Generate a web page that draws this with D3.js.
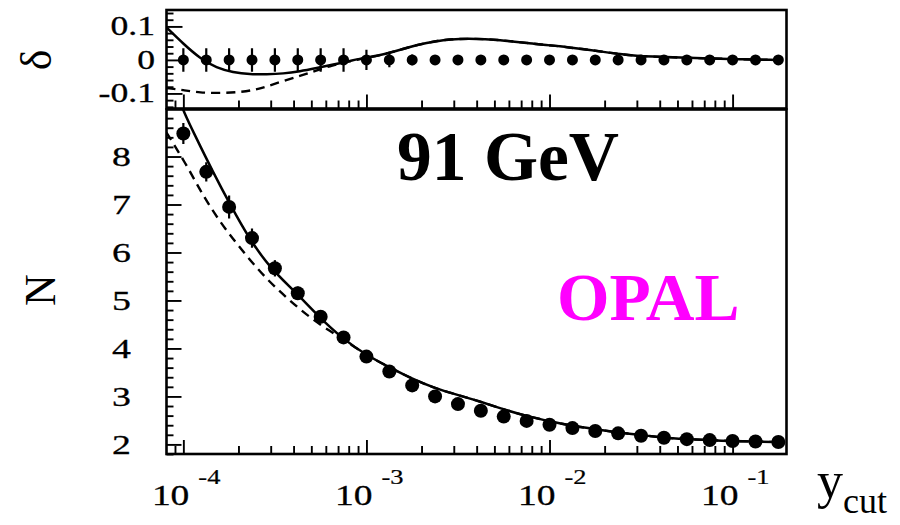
<!DOCTYPE html>
<html><head><meta charset="utf-8">
<script src="https://cdn.jsdelivr.net/npm/d3@7"></script>
<style>body{margin:0;background:#fff} svg{display:block}</style>
</head><body>
<svg id="chart" width="900" height="525"></svg>
<script>
// ---------- data ----------
const ycut = [1.00e-4, 1.334e-4, 1.778e-4, 2.371e-4, 3.162e-4, 4.217e-4, 5.623e-4, 7.499e-4,
  1.00e-3, 1.334e-3, 1.778e-3, 2.371e-3, 3.162e-3, 4.217e-3, 5.623e-3, 7.499e-3,
  1.00e-2, 1.334e-2, 1.778e-2, 2.371e-2, 3.162e-2, 4.217e-2, 5.623e-2, 7.499e-2,
  0.100, 0.1334, 0.1778];
const nData = [8.48, 7.68, 6.95, 6.30, 5.67, 5.15, 4.66, 4.23, 3.83, 3.52, 3.23, 3.00, 2.84, 2.70,
  2.58, 2.49, 2.41, 2.34, 2.28, 2.23, 2.18, 2.14, 2.11, 2.09, 2.07, 2.06, 2.05];
const nErr = [0.22, 0.20, 0.24, 0.20, 0.17, 0.14, 0.12, 0.10, 0.08, 0.06, 0.05, 0.04, 0.03, 0.03,
  0.02, 0.02, 0.02, 0.02, 0.02, 0.02, 0.02, 0.02, 0.02, 0.02, 0.02, 0.02, 0.02];
const deltaData = [0,0,0,0,0,0,0,0,0,0,0,0,0,0,0,0,0,0,0,0,0,0,0,0,0,0,0];
const deltaErr = [0.035, 0.035, 0.035, 0.035, 0.035, 0.035, 0.035, 0.035, 0.030, 0.022, 0.016, 0.010,
  0.008, 0.008, 0.008, 0.008, 0.008, 0.008, 0.008, 0.008, 0.008, 0.008, 0.008, 0.008, 0.008, 0.008, 0.008];

// theory curves, lower panel (N)
const solidNX = [9.5e-5, 1.0e-4, 1.144e-4, 1.45e-4, 1.83e-4, 2.29e-4, 2.94e-4, 4.16e-4, 5.46e-4, 7.48e-4,
  1.0e-3, 1.33e-3, 1.79e-3, 2.37e-3, 3.15e-3, 4.14e-3, 5.6e-3, 7.5e-3, 1.01e-2, 1.32e-2, 1.76e-2,
  2.33e-2, 3.12e-2, 4.13e-2, 5.54e-2, 7.31e-2, 9.8e-2, 0.130, 0.174];
const solidN = [9.2, 8.95, 8.48, 7.68, 6.95, 6.29, 5.70, 5.15, 4.67, 4.19,
  3.86, 3.61, 3.36, 3.17, 3.03, 2.90, 2.73, 2.59, 2.48, 2.39, 2.32,
  2.25, 2.20, 2.14, 2.11, 2.09, 2.07, 2.06, 2.05];
const dashedNX = [8.09e-5, 1.04e-4, 1.29e-4, 1.65e-4, 2.13e-4, 2.74e-4, 3.67e-4, 4.92e-4, 6.33e-4, 7.48e-4,
  1.0e-3, 1.33e-3, 1.79e-3, 2.37e-3, 3.15e-3, 4.14e-3, 5.6e-3, 7.5e-3, 1.01e-2, 1.32e-2, 1.76e-2,
  2.33e-2, 3.12e-2, 4.13e-2, 5.54e-2, 7.31e-2, 9.8e-2, 0.130, 0.174];
const dashedN = [8.50, 7.83, 7.16, 6.54, 6.01, 5.51, 5.05, 4.64, 4.36, 4.19,
  3.86, 3.61, 3.36, 3.17, 3.03, 2.90, 2.73, 2.59, 2.48, 2.39, 2.32,
  2.25, 2.20, 2.14, 2.11, 2.09, 2.07, 2.06, 2.05];

// theory curves, upper panel (delta)
const solidDX = [8.09e-5, 1.0e-4, 1.23e-4, 1.52e-4, 1.87e-4, 2.31e-4, 2.85e-4, 3.51e-4, 4.33e-4, 5.35e-4,
  6.59e-4, 8.13e-4, 1.0e-3, 1.14e-3, 1.40e-3, 1.73e-3, 2.13e-3, 2.63e-3, 3.24e-3, 4.0e-3, 4.93e-3,
  6.08e-3, 7.5e-3, 9.25e-3, 1.14e-2, 1.41e-2, 1.60e-2, 1.97e-2, 2.43e-2, 2.99e-2, 3.69e-2, 4.55e-2,
  6.9e-2, 0.105, 0.174];
const solidD = [0.097, 0.048, 0.005, -0.024, -0.037, -0.043, -0.043, -0.041, -0.034, -0.024,
  -0.014, -0.003, 0.008, 0.012, 0.024, 0.039, 0.051, 0.060, 0.063, 0.063, 0.061,
  0.056, 0.051, 0.045, 0.041, 0.034, 0.031, 0.024, 0.017, 0.012, 0.010, 0.008,
  0.005, 0.002, 0.0];
const dashedDX = [8.09e-5, 1.0e-4, 1.23e-4, 1.6e-4, 2.05e-4, 2.42e-4, 2.8e-4, 3.5e-4, 4.4e-4, 5.3e-4,
  6.5e-4, 8.1e-4, 1.0e-3, 1.14e-3, 1.40e-3, 1.73e-3, 2.13e-3, 2.63e-3, 3.24e-3, 4.0e-3, 4.93e-3,
  6.08e-3, 7.5e-3, 9.25e-3, 1.14e-2, 1.41e-2, 1.60e-2, 1.97e-2, 2.43e-2, 2.99e-2, 3.69e-2, 4.55e-2,
  6.9e-2, 0.105, 0.174];
const dashedD = [-0.084, -0.090, -0.098, -0.099, -0.096, -0.090, -0.081, -0.063, -0.047, -0.032,
  -0.016, -0.004, 0.006, 0.012, 0.024, 0.039, 0.051, 0.060, 0.063, 0.063, 0.061,
  0.056, 0.051, 0.045, 0.041, 0.034, 0.031, 0.024, 0.017, 0.012, 0.010, 0.008,
  0.005, 0.002, 0.0];

const yTicksTop = [-0.1, 0, 0.1];
const yTickLabelsTop = ["-0.1", "0", "0.1"];
const yTicksBottom = [2, 3, 4, 5, 6, 7, 8];
const xMajor = [1e-4, 1e-3, 1e-2, 1e-1];
const xExp = ["-4", "-3", "-2", "-1"];

// ---------- layout ----------
const svg = d3.select("#chart");
const L = 166.5, R = 786.5;
const top1 = 10, bot1 = 108.5, top2 = 109.5, bot2 = 454;
const serif = "'Liberation Serif', 'Times New Roman', serif";

const x = d3.scaleLog().domain([8.09e-5, 0.197]).range([L, R]);
const yD = d3.scaleLinear().domain([-0.145, 0.149]).range([bot1, top1]);
const yN = d3.scaleLinear().domain([1.80, 8.98]).range([bot2, top2]);

const defs = svg.append("defs");
defs.append("clipPath").attr("id", "c1").append("rect").attr("x", L).attr("y", top1).attr("width", R - L).attr("height", bot1 - top1);
defs.append("clipPath").attr("id", "c2").append("rect").attr("x", L).attr("y", top2).attr("width", R - L).attr("height", bot2 - top2);

const allX = x.ticks();
const minorX = allX.filter(v => Math.abs(Math.log10(v) - Math.round(Math.log10(v))) > 1e-6);

function xTicks(yPos) {
  const gM = svg.append("g").attr("transform", `translate(0,${yPos})`)
    .call(d3.axisTop(x).tickValues(xMajor).tickSize(14).tickFormat(""));
  const gm = svg.append("g").attr("transform", `translate(0,${yPos})`)
    .call(d3.axisTop(x).tickValues(minorX).tickSize(8).tickFormat(""));
  [gM, gm].forEach(g => { g.select(".domain").remove(); g.selectAll("line").attr("stroke", "#000").attr("stroke-width", 1.9); });
}
function yTicks(scale, major, minor, majLen, minLen) {
  const gM = svg.append("g").attr("transform", `translate(${L},0)`)
    .call(d3.axisRight(scale).tickValues(major).tickSize(majLen).tickFormat(""));
  const gm = svg.append("g").attr("transform", `translate(${L},0)`)
    .call(d3.axisRight(scale).tickValues(minor).tickSize(minLen).tickFormat(""));
  [gM, gm].forEach(g => { g.select(".domain").remove(); g.selectAll("line").attr("stroke", "#000").attr("stroke-width", 1.9); });
}

xTicks(bot1);
xTicks(bot2);
yTicks(yD, yTicksTop, d3.range(-0.14, 0.1401, 0.02).filter(v => Math.abs(v * 10 - Math.round(v * 10)) > 1e-6), 16, 7);
yTicks(yN, yTicksBottom, d3.range(1.8, 8.95, 0.2).filter(v => Math.abs(v - Math.round(v)) > 1e-6), 15, 7);

// ---------- curves ----------
const lineD = d3.line().x(d => x(d[0])).y(d => yD(d[1])).curve(d3.curveBasis);
const lineN = d3.line().x(d => x(d[0])).y(d => yN(d[1])).curve(d3.curveBasis);

const p1 = svg.append("g").attr("clip-path", "url(#c1)");
p1.append("path").attr("d", lineD(dashedDX.map((v, i) => [v, dashedD[i]])))
  .attr("fill", "none").attr("stroke", "#000").attr("stroke-width", 2.4).attr("stroke-dasharray", "9,6");
p1.append("path").attr("d", lineD(solidDX.map((v, i) => [v, solidD[i]])))
  .attr("fill", "none").attr("stroke", "#000").attr("stroke-width", 2.5);

const p2 = svg.append("g").attr("clip-path", "url(#c2)");
p2.append("path").attr("d", lineN(dashedNX.map((v, i) => [v, dashedN[i]])))
  .attr("fill", "none").attr("stroke", "#000").attr("stroke-width", 2.4).attr("stroke-dasharray", "9,6");
p2.append("path").attr("d", lineN(solidNX.map((v, i) => [v, solidN[i]])))
  .attr("fill", "none").attr("stroke", "#000").attr("stroke-width", 2.5);

// ---------- data points ----------
p1.selectAll(".eb").data(ycut).join("line")
  .attr("x1", d => x(d)).attr("x2", d => x(d))
  .attr("y1", (d, i) => yD(deltaData[i] - deltaErr[i])).attr("y2", (d, i) => yD(deltaData[i] + deltaErr[i]))
  .attr("stroke", "#000").attr("stroke-width", 2.2);
p1.selectAll(".pt").data(ycut).join("circle")
  .attr("cx", d => x(d)).attr("cy", (d, i) => yD(deltaData[i])).attr("r", 5.5).attr("fill", "#000");

p2.selectAll(".eb").data(ycut).join("line")
  .attr("x1", d => x(d)).attr("x2", d => x(d))
  .attr("y1", (d, i) => yN(nData[i] - nErr[i])).attr("y2", (d, i) => yN(nData[i] + nErr[i]))
  .attr("stroke", "#000").attr("stroke-width", 2.2);
p2.selectAll(".pt").data(ycut).join("circle")
  .attr("cx", d => x(d)).attr("cy", (d, i) => yN(nData[i])).attr("r", 7).attr("fill", "#000");

// ---------- frames ----------
svg.append("rect").attr("x", L).attr("y", top1).attr("width", R - L).attr("height", bot1 - top1)
  .attr("fill", "none").attr("stroke", "#000").attr("stroke-width", 2.6);
svg.append("rect").attr("x", L).attr("y", top2).attr("width", R - L).attr("height", bot2 - top2)
  .attr("fill", "none").attr("stroke", "#000").attr("stroke-width", 2.6);

// ---------- tick labels ----------
yTicksTop.forEach((v, i) => {
  svg.append("text").attr("transform", `translate(155,${yD(v) + 9}) scale(1.32,1)`)
    .attr("text-anchor", "end").attr("font-family", serif).attr("font-size", 27).attr("fill", "#000")
    .attr("stroke", "#000").attr("stroke-width", 0.3)
    .text(yTickLabelsTop[i]);
});
yTicksBottom.forEach(v => {
  svg.append("text").attr("transform", `translate(131,${yN(v) + 9.5}) scale(1.35,1)`)
    .attr("text-anchor", "end").attr("font-family", serif).attr("font-size", 28).attr("fill", "#000")
    .attr("stroke", "#000").attr("stroke-width", 0.3)
    .text(String(v));
});
xMajor.forEach((v, i) => {
  const tx = x(v);
  svg.append("text").attr("transform", `translate(${tx + 6},505) scale(1.25,1)`)
    .attr("text-anchor", "end").attr("font-family", serif).attr("font-size", 30).attr("fill", "#000")
    .attr("stroke", "#000").attr("stroke-width", 0.3).text("10");
  svg.append("text").attr("transform", `translate(${tx + 15},484) scale(1.2,1)`)
    .attr("text-anchor", "start").attr("font-family", serif).attr("font-size", 22).attr("fill", "#000")
    .attr("stroke", "#000").attr("stroke-width", 0.25).text(xExp[i]);
});

// ---------- axis titles ----------
const yt = svg.append("text").attr("x", 817).attr("y", 498).attr("font-family", serif).attr("fill", "#000");
yt.append("tspan").attr("font-size", 52).text("y");
yt.append("tspan").attr("font-size", 36).attr("dy", 15).text("cut");

svg.append("text").attr("transform", "translate(36,60) rotate(-90)")
  .attr("text-anchor", "middle").attr("dominant-baseline", "central")
  .attr("font-family", serif).attr("font-size", 44).attr("fill", "#000").text("δ");
svg.append("text").attr("transform", "translate(40,290) rotate(-90)")
  .attr("text-anchor", "middle").attr("dominant-baseline", "central")
  .attr("font-family", serif).attr("font-size", 44).attr("fill", "#000").text("N");

// ---------- annotations ----------
svg.append("text").attr("x", 397).attr("y", 180).attr("font-family", serif).attr("font-weight", "bold")
  .attr("font-size", 69.5).attr("fill", "#000").text("91 GeV");
svg.append("text").attr("x", 557).attr("y", 320).attr("font-family", serif).attr("font-weight", "bold")
  .attr("font-size", 67.5).attr("fill", "#ff00ff").text("OPAL");
</script>
</body></html>
